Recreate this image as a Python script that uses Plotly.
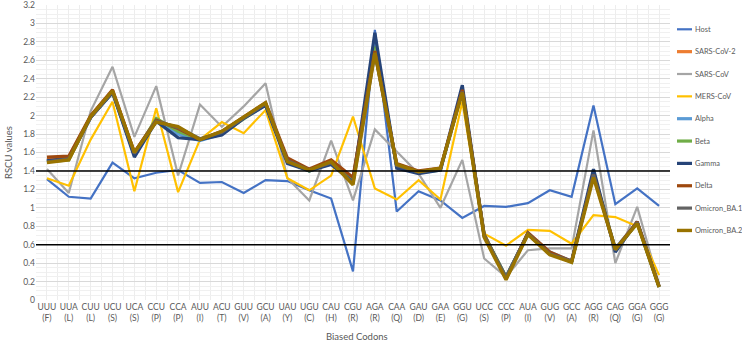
import plotly.graph_objects as go

# ---------------- data ----------------
codons = ["UUU<br>(F)", "UUA<br>(L)", "CUU<br>(L)", "UCU<br>(S)", "UCA<br>(S)", "CCU<br>(P)",
          "CCA<br>(P)", "AUU<br>(I)", "ACU<br>(T)", "GUU<br>(V)", "GCU<br>(A)", "UAU<br>(Y)",
          "UGU<br>(C)", "CAU<br>(H)", "CGU<br>(R)", "AGA<br>(R)", "CAA<br>(Q)", "GAU<br>(D)",
          "GAA<br>(E)", "GGU<br>(G)", "UCC<br>(S)", "CCC<br>(P)", "AUA<br>(I)", "GUG<br>(V)",
          "GCC<br>(A)", "AGG<br>(R)", "CAG<br>(Q)", "GGA<br>(G)", "GGG<br>(G)"]

host = [1.31, 1.12, 1.10, 1.49, 1.32, 1.38, 1.41, 1.27, 1.28, 1.16, 1.30, 1.29, 1.19, 1.10, 0.31,
        2.93, 0.96, 1.18, 1.08, 0.89, 1.02, 1.01, 1.05, 1.19, 1.12, 2.11, 1.04, 1.21, 1.02]
sars_cov2 = [1.52, 1.55, 1.99, 2.27, 1.60, 1.95, 1.85, 1.74, 1.82, 1.98, 2.13, 1.52, 1.41, 1.51, 1.32,
             2.70, 1.46, 1.39, 1.42, 2.28, 0.70, 0.24, 0.72, 0.51, 0.42, 1.37, 0.55, 0.84, 0.15]
sars_cov = [1.42, 1.16, 2.05, 2.53, 1.77, 2.32, 1.35, 2.12, 1.88, 2.10, 2.35, 1.32, 1.08, 1.73, 1.08,
            1.85, 1.61, 1.37, 1.00, 1.52, 0.45, 0.25, 0.54, 0.56, 0.56, 1.84, 0.40, 1.01, 0.17]
mers_cov = [1.32, 1.24, 1.74, 2.15, 1.18, 2.08, 1.17, 1.74, 1.93, 1.81, 2.06, 1.32, 1.19, 1.35, 1.99,
            1.21, 1.09, 1.30, 1.09, 2.15, 0.72, 0.59, 0.76, 0.75, 0.61, 0.92, 0.90, 0.80, 0.27]
alpha = [1.51, 1.53, 1.98, 2.26, 1.57, 1.96, 1.80, 1.73, 1.80, 1.98, 2.12, 1.51, 1.40, 1.49, 1.30,
         2.80, 1.45, 1.38, 1.42, 2.27, 0.70, 0.25, 0.72, 0.52, 0.42, 1.36, 0.56, 0.84, 0.15]
beta = [1.50, 1.52, 1.99, 2.25, 1.58, 1.97, 1.83, 1.74, 1.81, 1.97, 2.12, 1.50, 1.40, 1.48, 1.29,
        2.75, 1.45, 1.38, 1.41, 2.27, 0.71, 0.25, 0.71, 0.51, 0.41, 1.38, 0.55, 0.83, 0.14]
gamma = [1.51, 1.54, 1.98, 2.25, 1.55, 1.94, 1.76, 1.74, 1.79, 1.97, 2.11, 1.48, 1.40, 1.47, 1.28,
         2.90, 1.43, 1.37, 1.41, 2.33, 0.69, 0.24, 0.72, 0.50, 0.42, 1.42, 0.52, 0.85, 0.14]
delta = [1.55, 1.56, 2.00, 2.28, 1.60, 1.95, 1.86, 1.74, 1.83, 1.99, 2.14, 1.54, 1.42, 1.52, 1.33,
         2.70, 1.48, 1.40, 1.43, 2.28, 0.71, 0.23, 0.73, 0.52, 0.42, 1.36, 0.55, 0.85, 0.15]
omicron_ba1 = [1.50, 1.53, 1.98, 2.26, 1.59, 1.94, 1.87, 1.75, 1.82, 1.98, 2.13, 1.51, 1.41, 1.49, 1.27,
               2.68, 1.46, 1.39, 1.42, 2.26, 0.70, 0.25, 0.72, 0.50, 0.42, 1.36, 0.54, 0.84, 0.15]
omicron_ba2 = [1.49, 1.52, 1.99, 2.27, 1.60, 1.93, 1.88, 1.74, 1.83, 1.99, 2.14, 1.50, 1.41, 1.50, 1.25,
               2.68, 1.47, 1.39, 1.43, 2.25, 0.68, 0.22, 0.71, 0.49, 0.41, 1.33, 0.55, 0.83, 0.14]

series_names = ["Host", "SARS-CoV-2", "SARS-CoV", "MERS-CoV", "Alpha", "Beta", "Gamma", "Delta",
                "Omicron_BA.1", "Omicron_BA.2"]
series_values = [host, sars_cov2, sars_cov, mers_cov, alpha, beta, gamma, delta, omicron_ba1, omicron_ba2]
thresholds = [1.4, 0.6]
y_ticks = [0, 0.2, 0.4, 0.6, 0.8, 1, 1.2, 1.4, 1.6, 1.8, 2, 2.2, 2.4, 2.6, 2.8, 3, 3.2]

# ---------------- styles ----------------
colors = ["#4472C4", "#ED7D31", "#A5A5A5", "#FFC000", "#5B9BD5", "#70AD47", "#264478", "#9E480E",
          "#636363", "#997300"]
widths = [2.2, 3.2, 2.2, 2.2, 3.2, 3.2, 3.2, 3.2, 3.2, 3.4]

W, H = 742, 342
ML, MR, MT, MB = 36, 72, 5, 42
PW, PH = W - ML - MR, H - MT - MB


def px_x(px):
    return (px - ML) / PW


def px_y(py):
    return (H - MB - py) / PH


FONT = "Lato, 'Liberation Sans', Arial, sans-serif"
TXT = "#595959"

fig = go.Figure()
xs = list(range(len(codons)))
for name, vals, col, w in zip(series_names, series_values, colors, widths):
    fig.add_trace(go.Scatter(x=xs, y=vals, mode="lines", name=name,
                             line=dict(color=col, width=w), showlegend=False))

for t in thresholds:
    fig.add_shape(type="line", xref="paper", yref="y", x0=0, x1=1, y0=t, y1=t,
                  line=dict(color="#000000", width=1.5))

# manual legend
for i, (name, col, w) in enumerate(zip(series_names, colors, widths)):
    py = 29.3 + i * 22.35
    fig.add_shape(type="line", xref="paper", yref="paper",
                  x0=px_x(677), x1=px_x(692), y0=px_y(py), y1=px_y(py),
                  line=dict(color=col, width=w))
    fig.add_annotation(xref="paper", yref="paper", x=px_x(693), y=px_y(py), text=name,
                       showarrow=False, xanchor="left", yanchor="middle",
                       font=dict(family=FONT, size=7.4, color=TXT))

fig.add_annotation(xref="paper", yref="paper", x=px_x(357), y=px_y(336), text="Biased Codons",
                   showarrow=False, xanchor="center", yanchor="middle",
                   font=dict(family=FONT, size=9.5, color=TXT))
fig.add_annotation(xref="paper", yref="paper", x=px_x(8), y=px_y(152), text="RSCU values",
                   showarrow=False, textangle=-90, xanchor="center", yanchor="middle",
                   font=dict(family=FONT, size=9.5, color=TXT))

fig.update_xaxes(range=[-0.5, len(codons) - 0.5], tickmode="array", tickvals=xs, ticktext=codons,
                 showgrid=True, gridcolor="#EDEDED", gridwidth=1, ticks="", zeroline=False,
                 showline=False, tickfont=dict(family=FONT, size=8.5, color=TXT),
                 ticklabeloverflow="allow",
                 minor=dict(tick0=-0.5, dtick=1, showgrid=True, gridcolor="#EDEDED", gridwidth=1))
fig.update_yaxes(range=[0, 3.2], tickmode="array", tickvals=y_ticks,
                 ticktext=[f"{v:g}" for v in y_ticks],
                 showgrid=True, gridcolor="#D9D9D9", gridwidth=1,
                 zeroline=False, showline=False, ticks="", ticklabeloverflow="allow",
                 tickfont=dict(family=FONT, size=8.5, color=TXT),
                 minor=dict(tick0=0, dtick=0.05, showgrid=True, gridcolor="#F0F0F0", gridwidth=1))

fig.update_layout(width=W, height=H, margin=dict(l=ML, r=MR, t=MT, b=MB, autoexpand=False),
                  plot_bgcolor="white", paper_bgcolor="white", showlegend=False,
                  font=dict(family=FONT, color=TXT))

fig.write_html("out.html", config={"displayModeBar": False},
               post_script="document.body.style.margin='0px';document.body.style.overflow='hidden';")
